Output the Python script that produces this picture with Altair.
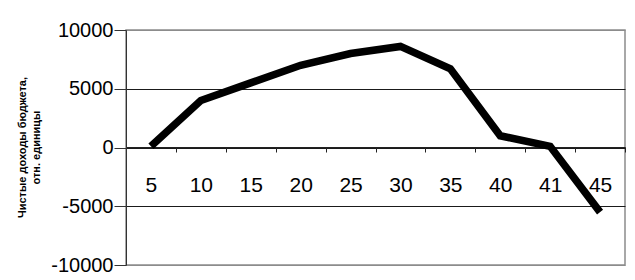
import altair as alt
import pandas as pd

categories = ["5", "10", "15", "20", "25", "30", "35", "40", "41", "45"]
values = [100, 4000, 5500, 7000, 8000, 8600, 6700, 1000, 100, -5500]
y_ticks = [-10000, -5000, 0, 5000, 10000]
y_title = ["Чистые доходы бюджета,", "отн. единицы"]

df = pd.DataFrame({"cat": categories, "val": values})

chart = alt.Chart(df).mark_line(color="black", strokeWidth=7.5, strokeJoin="miter").encode(
    x=alt.X("cat:N", sort=categories, bandPosition=0.5,
            scale=alt.Scale(type="band", paddingInner=0, paddingOuter=0),
            axis=alt.Axis(title=None, labelAngle=0, offset=-118, tickBand="extent",
                          domainColor="#222", tickColor="#222", tickSize=5,
                          labelPadding=22, labelFontSize=21, labelFont="Liberation Sans",
                          labelColor="black", grid=False)),
    y=alt.Y("val:Q", scale=alt.Scale(domain=[-10000, 10000], nice=False),
            axis=alt.Axis(values=y_ticks, title=y_title, titleFontSize=11,
                          titleFont="Liberation Sans", titleFontWeight="bold",
                          titleColor="black", titleX=-110, titleY=117,
                          titleAlign="center", titleBaseline="top", titleLineHeight=14,
                          labelExpr="datum.value < 0 ? '-' + format(-datum.value, 'd') : format(datum.value, 'd')",
                          labelFontSize=20, labelFont="Liberation Sans", labelColor="black",
                          labelPadding=1, tickSize=12, tickColor="#333", domainColor="#333",
                          grid=True,
                          gridColor=alt.condition("datum.value == 10000 || datum.value == -10000",
                                                  alt.value("#8c8c8c"), alt.value("#1a1a1a")),
                          gridWidth=1.2)),
).properties(
    width=499, height=235,
    autosize=alt.AutoSizeParams(type="none"),
    padding={"left": 118, "top": 22, "right": 2, "bottom": 12},
).configure_view(stroke="#8c8c8c", strokeWidth=1.5)

chart.save("out.html", embed_options={"renderer": "svg", "actions": False})
